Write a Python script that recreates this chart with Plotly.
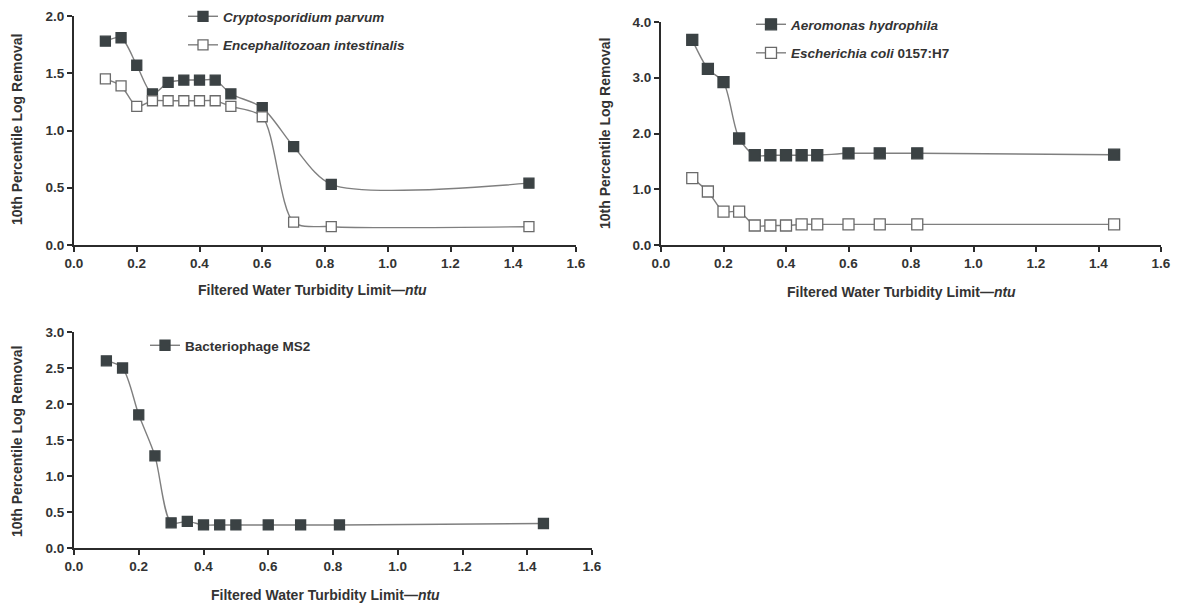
import plotly.graph_objects as go

W, H = 1177, 604

# ---- data ----
x_p1 = [0.10, 0.15, 0.20, 0.25, 0.30, 0.35, 0.40, 0.45, 0.50, 0.60, 0.70, 0.82, 1.45]
crypto = [1.78, 1.81, 1.57, 1.32, 1.42, 1.44, 1.44, 1.44, 1.32, 1.20, 0.86, 0.53, 0.54]
enceph = [1.45, 1.39, 1.21, 1.26, 1.26, 1.26, 1.26, 1.26, 1.21, 1.12, 0.20, 0.16, 0.16]

x_p2 = [0.10, 0.15, 0.20, 0.25, 0.30, 0.35, 0.40, 0.45, 0.50, 0.60, 0.70, 0.82, 1.45]
aeromonas = [3.68, 3.16, 2.92, 1.91, 1.61, 1.61, 1.61, 1.61, 1.61, 1.645, 1.645, 1.645, 1.62]
ecoli = [1.20, 0.96, 0.60, 0.60, 0.35, 0.35, 0.35, 0.37, 0.37, 0.37, 0.37, 0.37, 0.37]

x_p3 = [0.10, 0.15, 0.20, 0.25, 0.30, 0.35, 0.40, 0.45, 0.50, 0.60, 0.70, 0.82, 1.45]
ms2 = [2.60, 2.50, 1.85, 1.28, 0.35, 0.37, 0.32, 0.32, 0.32, 0.32, 0.32, 0.32, 0.34]

x_title = "Filtered Water Turbidity Limit—<i>ntu</i>"
y_title = "10th Percentile Log Removal"

# ---- style ----
LINE = "#7f7f7f"
DARK = "#3b4244"
TXT = "#333333"
FONT = "Liberation Sans"


def px_x(p):
    return p / W


def px_y(p):
    return 1 - p / H


fig = go.Figure()


def add(x, y, name, filled, xa, ya, leg, grp, msize):
    fig.add_trace(go.Scatter(
        x=x, y=y, name=name, mode="lines+markers",
        xaxis=xa, yaxis=ya, legend=leg, legendgroup=grp,
        line=dict(color=LINE, width=1.4, shape="spline", smoothing=0.8),
        marker=dict(symbol="square", size=msize,
                    color=DARK if filled else "white",
                    line=dict(color=DARK if filled else "#6a6a6a", width=1.3)),
    ))


add(x_p1, crypto, "<i>Cryptosporidium parvum</i>", True, "x", "y", "legend", "a", 10)
add(x_p1, enceph, "<i>Encephalitozoan intestinalis</i>", False, "x", "y", "legend", "b", 10)
add(x_p2, aeromonas, "<i>Aeromonas hydrophila</i>", True, "x2", "y2", "legend2", "c", 11)
add(x_p2, ecoli, "<i>Escherichia coli</i> 0157:H7", False, "x2", "y2", "legend2", "d", 11)
add(x_p3, ms2, "Bacteriophage MS2", True, "x3", "y3", "legend3", "e", 10)

tickfont = dict(family=FONT, size=13.5, color=TXT, weight="bold")
axcommon = dict(showline=True, linecolor="#2b2b2b", linewidth=2, ticks="outside",
                ticklen=5, tickwidth=1.5, tickcolor="#2b2b2b", showgrid=False,
                zeroline=False, tickfont=tickfont, tickformat=".1f", automargin=False)

fig.update_layout(
    width=W, height=H, margin=dict(l=0, r=0, t=0, b=0, autoexpand=False),
    paper_bgcolor="white", plot_bgcolor="white",
    xaxis=dict(domain=[px_x(74), px_x(576)], range=[0, 1.6], dtick=0.2, anchor="y", **axcommon),
    yaxis=dict(domain=[px_y(245), px_y(16)], range=[0, 2], dtick=0.5, anchor="x", **axcommon),
    xaxis2=dict(domain=[px_x(661), px_x(1161)], range=[0, 1.6], dtick=0.2, anchor="y2", **axcommon),
    yaxis2=dict(domain=[px_y(245), px_y(22)], range=[0, 4], dtick=1, anchor="x2", **axcommon),
    xaxis3=dict(domain=[px_x(74), px_x(592)], range=[0, 1.6], dtick=0.2, anchor="y3", **axcommon),
    yaxis3=dict(domain=[px_y(548), px_y(332)], range=[0, 3], dtick=0.5, anchor="x3", **axcommon),
    showlegend=True,
)

legfont = dict(family=FONT, size=13.5, color=TXT, weight="bold")
legcommon = dict(font=legfont, bgcolor="rgba(0,0,0,0)", xanchor="left", yanchor="top",
                 traceorder="grouped", tracegroupgap=8)
fig.update_layout(
    legend=dict(x=px_x(183), y=px_y(1), **legcommon),
    legend2=dict(x=px_x(751), y=px_y(9), **legcommon),
    legend3=dict(x=px_x(145), y=px_y(330), **legcommon),
)

titlefont = dict(family=FONT, size=14, color=TXT, weight="bold")
ann = [
    (px_x(312), px_y(290), x_title, 0),
    (px_x(901), px_y(292), x_title, 0),
    (px_x(325), px_y(595), x_title, 0),
    (px_x(17), px_y(130), y_title, -90),
    (px_x(605), px_y(133), y_title, -90),
    (px_x(17), px_y(442), y_title, -90),
]
for x, y, t, a in ann:
    fig.add_annotation(x=x, y=y, xref="paper", yref="paper", text=t, textangle=a,
                       showarrow=False, font=titlefont, xanchor="center", yanchor="middle")

fig.write_html("out.html", config={"displayModeBar": False},
               post_script="document.body.style.margin='0';document.body.style.overflow='hidden';")
